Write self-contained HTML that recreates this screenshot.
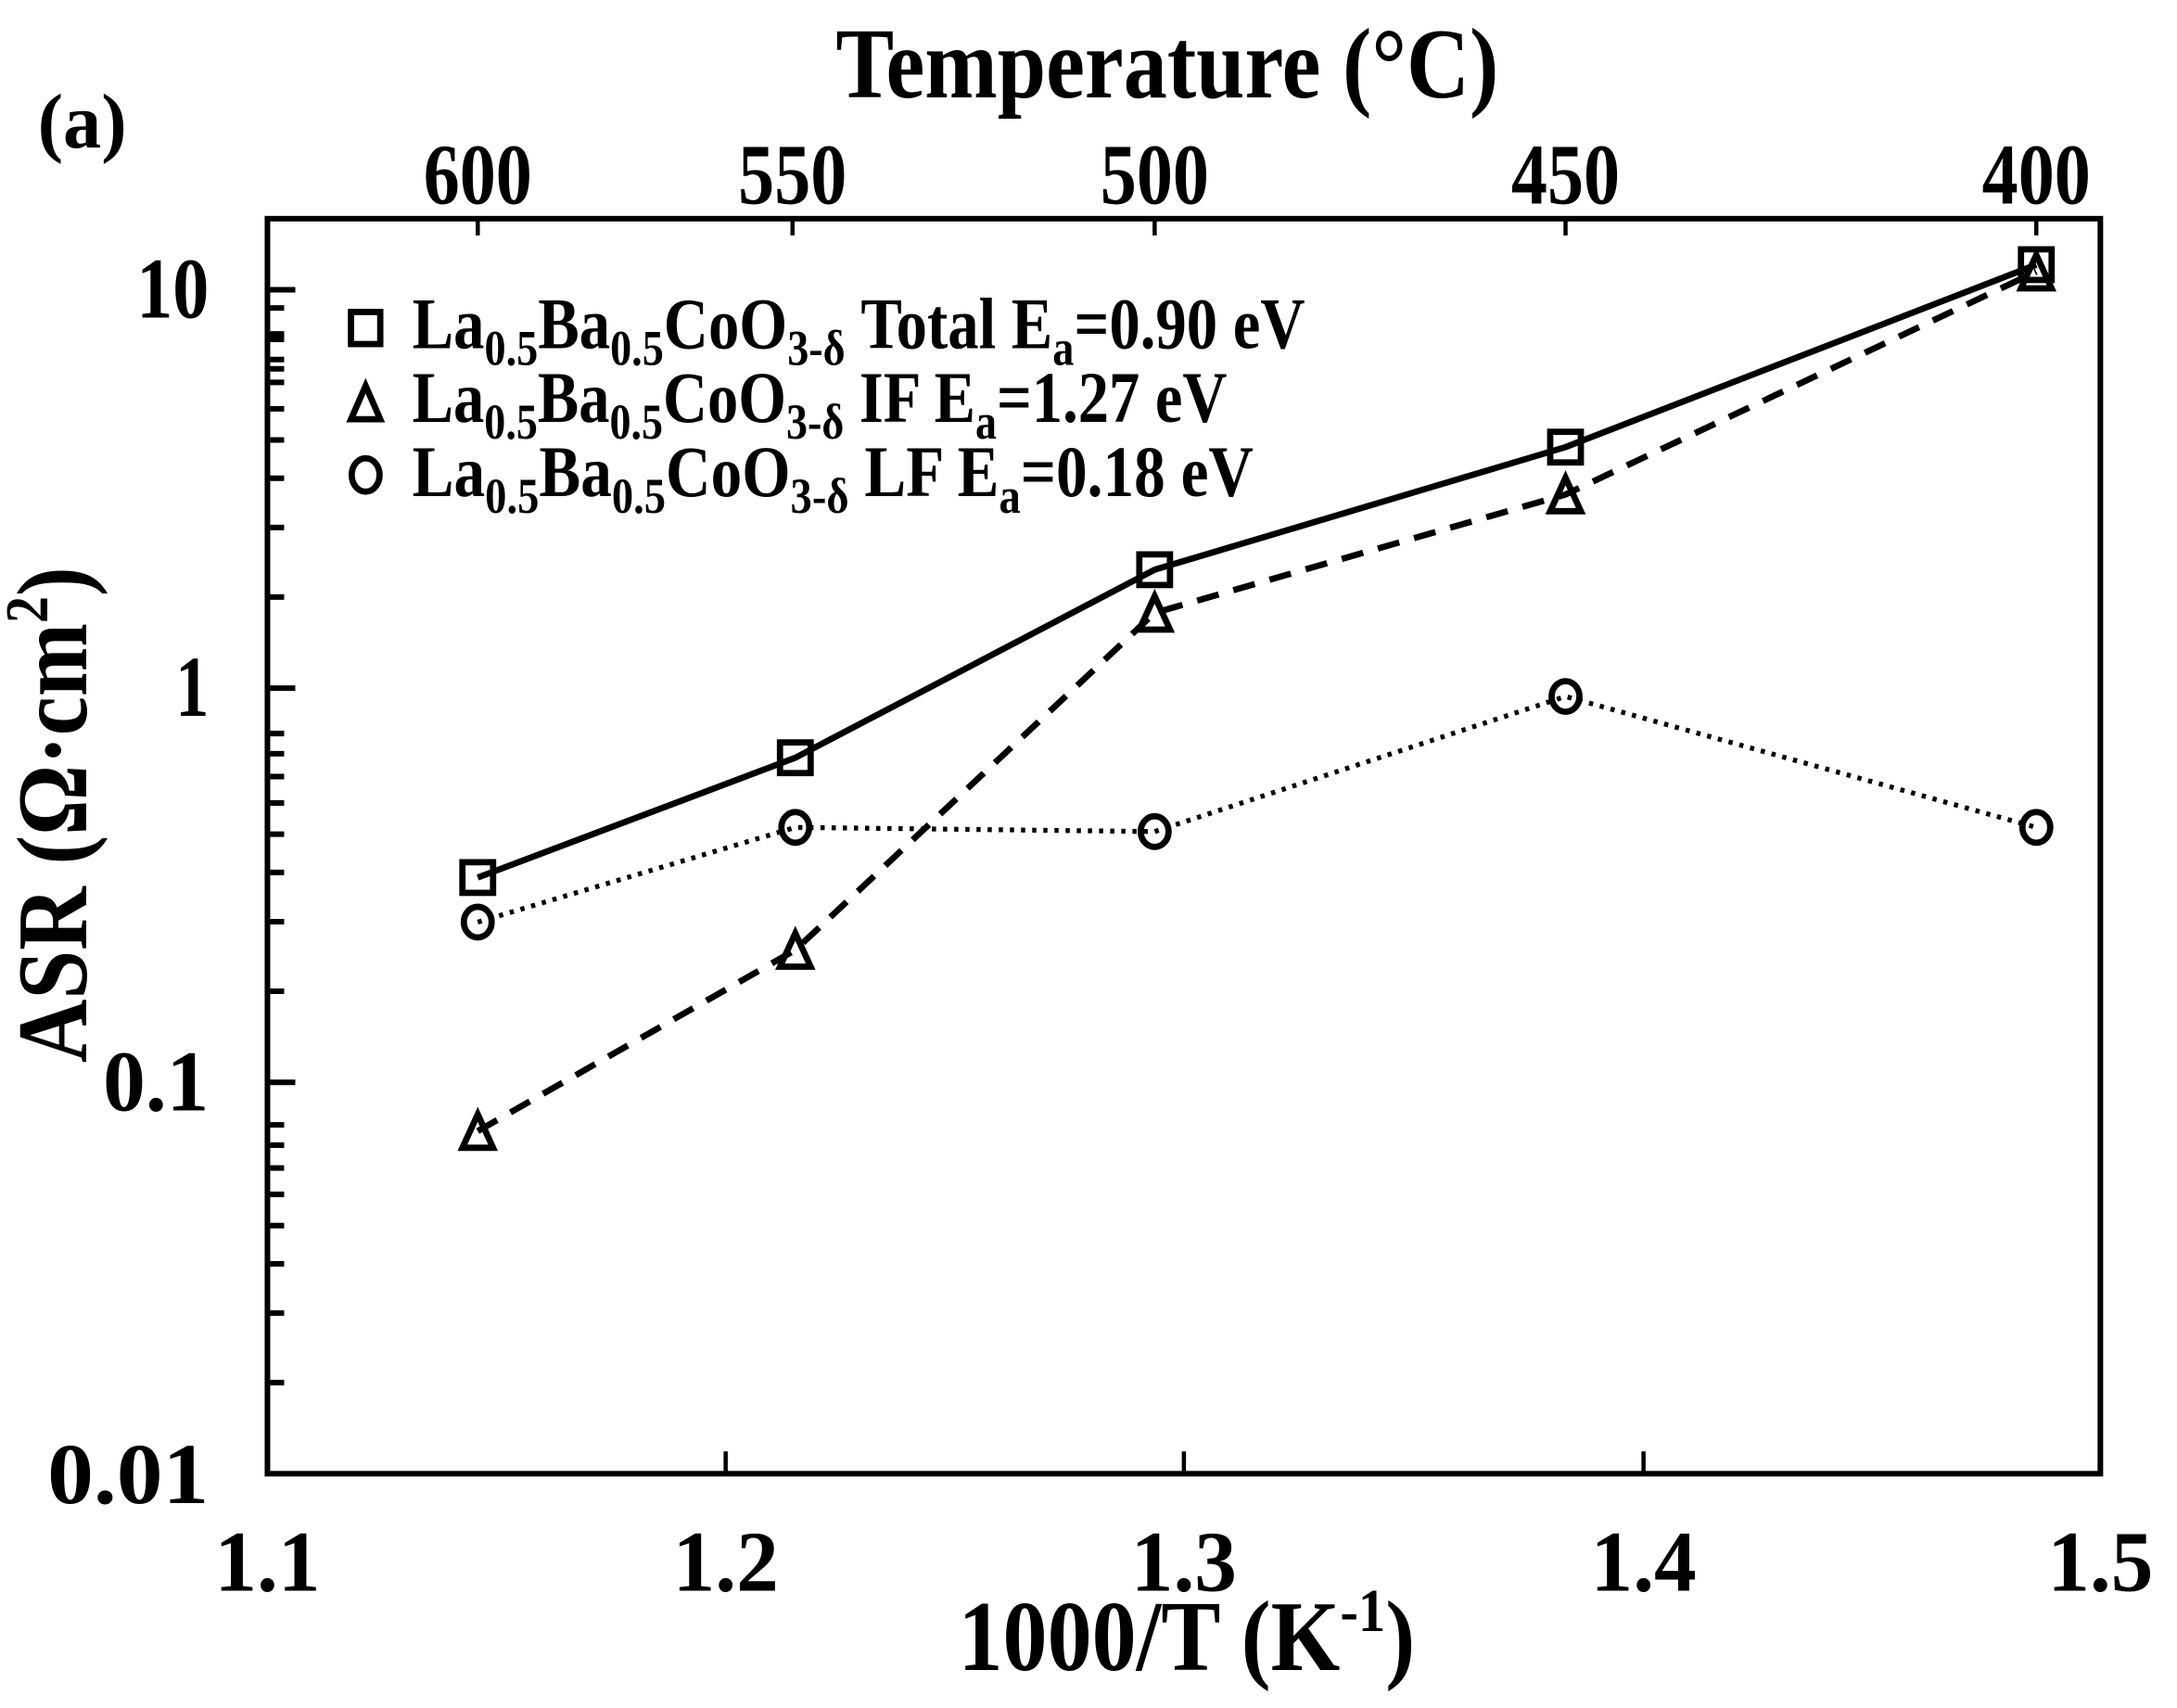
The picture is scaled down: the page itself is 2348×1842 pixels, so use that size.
<!DOCTYPE html>
<html><head><meta charset="utf-8"><style>html,body{margin:0;padding:0;background:#fff}svg{display:block}</style></head>
<body>
<svg width="2348" height="1842" viewBox="0 0 1563 1226.2" xmlns="http://www.w3.org/2000/svg" font-family="Liberation Serif, serif" font-weight="bold">
<rect width="1563" height="1226.2" fill="#fff"/>
<rect x="192" y="157" width="1316" height="901" fill="none" stroke="#000" stroke-width="4"/>
<g stroke="#000" stroke-width="4">
<path d="M192 208h20M192 494h20M192 777h20"/>
<path d="M192 264.8h12M192 239.7h12M192 221.1h12 M192 428.6h12M192 378.7h12M192 343.3h12M192 315.9h12M192 293.5h12M192 274.5h12M192 258.1h12M192 243.6h12 M192 711.6h12M192 661.7h12M192 626.3h12M192 598.9h12M192 576.5h12M192 557.5h12M192 541.1h12M192 526.6h12 M192 992.6h12M192 942.7h12M192 907.3h12M192 879.9h12M192 857.5h12M192 838.5h12M192 822.1h12M192 807.6h12"/>
</g>
<g stroke="#000" stroke-width="3"><path d="M521 1058v-16M850 1058v-16M1180 1058v-16"/>
<path d="M343 157v12M569 157v12M829 157v12M1124 157v12M1462 157v12"/></g>
<g font-size="62" text-anchor="end">
<text x="150" y="228" textLength="52" lengthAdjust="spacingAndGlyphs">10</text>
<text x="150" y="514" textLength="24" lengthAdjust="spacingAndGlyphs">1</text>
<text x="150" y="797" textLength="76" lengthAdjust="spacingAndGlyphs">0.1</text>
<text x="150" y="1079" textLength="116" lengthAdjust="spacingAndGlyphs">0.01</text>
</g>
<g font-size="62" text-anchor="middle">
<text x="192" y="1142" textLength="76" lengthAdjust="spacingAndGlyphs">1.1</text>
<text x="521" y="1142" textLength="76" lengthAdjust="spacingAndGlyphs">1.2</text>
<text x="850" y="1142" textLength="76" lengthAdjust="spacingAndGlyphs">1.3</text>
<text x="1180" y="1142" textLength="76" lengthAdjust="spacingAndGlyphs">1.4</text>
<text x="1508" y="1142" textLength="76" lengthAdjust="spacingAndGlyphs">1.5</text>
<text x="343" y="146" textLength="78" lengthAdjust="spacingAndGlyphs">600</text>
<text x="569" y="146" textLength="78" lengthAdjust="spacingAndGlyphs">550</text>
<text x="829" y="146" textLength="78" lengthAdjust="spacingAndGlyphs">500</text>
<text x="1124" y="146" textLength="78" lengthAdjust="spacingAndGlyphs">450</text>
<text x="1462" y="146" textLength="78" lengthAdjust="spacingAndGlyphs">400</text>
</g>
<text x="600" y="70" font-size="72" textLength="476" lengthAdjust="spacingAndGlyphs">Temperature (°C)</text>
<text x="27" y="106" font-size="56" textLength="64" lengthAdjust="spacingAndGlyphs">(a)</text>
<text x="688" y="1199" font-size="72" textLength="328" lengthAdjust="spacingAndGlyphs">1000/T (K<tspan font-size="44" dy="-28">-1</tspan><tspan dy="28">)</tspan></text>
<text transform="translate(62,585) rotate(-90)" text-anchor="middle" font-size="72" textLength="356" lengthAdjust="spacingAndGlyphs">ASR (Ω·cm<tspan font-size="44" dy="-28">2</tspan><tspan dy="28">)</tspan></text>
<g font-size="52">
<text x="296" y="250" textLength="641" lengthAdjust="spacingAndGlyphs">La<tspan font-size="36" dy="12">0.5</tspan><tspan dy="-12">Ba</tspan><tspan font-size="36" dy="12">0.5</tspan><tspan dy="-12">CoO</tspan><tspan font-size="36" dy="12">3-δ</tspan><tspan dy="-12"> Total E</tspan><tspan font-size="36" dy="12">a</tspan><tspan dy="-12">=0.90 eV</tspan></text>
<text x="296" y="303" textLength="585" lengthAdjust="spacingAndGlyphs">La<tspan font-size="36" dy="12">0.5</tspan><tspan dy="-12">Ba</tspan><tspan font-size="36" dy="12">0.5</tspan><tspan dy="-12">CoO</tspan><tspan font-size="36" dy="12">3-δ</tspan><tspan dy="-12"> IF E</tspan><tspan font-size="36" dy="12">a</tspan><tspan dy="-12">=1.27 eV</tspan></text>
<text x="296" y="356" textLength="604" lengthAdjust="spacingAndGlyphs">La<tspan font-size="36" dy="12">0.5</tspan><tspan dy="-12">Ba</tspan><tspan font-size="36" dy="12">0.5</tspan><tspan dy="-12">CoO</tspan><tspan font-size="36" dy="12">3-δ</tspan><tspan dy="-12"> LF E</tspan><tspan font-size="36" dy="12">a</tspan><tspan dy="-12">=0.18 eV</tspan></text>
</g>
<g fill="none" stroke="#000" stroke-width="4.5">
<rect x="252" y="224" width="21" height="23"/>
<path d="M252 301l10.5-24l10.5 24z"/>
<ellipse cx="262.5" cy="341" rx="10" ry="12"/>
</g>
<g fill="none" stroke="#000" stroke-width="4.5">
<polyline points="343,630 571,544 829,409 1124,321 1462,190"/>
<polyline points="343,812 571,682 829,440 1124,355 1462,195" stroke-dasharray="16,11"/>
<polyline points="343,662 571,594 829,597 1124,500 1462,594" stroke-width="3.5" stroke-dasharray="3,5"/>
<rect x="332" y="619" width="22" height="22"/><rect x="560" y="533" width="22" height="22"/><rect x="818" y="398" width="22" height="22"/><rect x="1113" y="310" width="22" height="22"/><rect x="1451" y="179" width="22" height="22"/>
<path d="M332 824l11-24l11 24z M560 694l11-24l11 24z M818 452l11-24l11 24z M1113 367l11-24l11 24z M1451 207l11-24l11 24z"/>
<ellipse cx="343" cy="662" rx="10" ry="11"/><ellipse cx="571" cy="594" rx="10" ry="11"/><ellipse cx="829" cy="597" rx="10" ry="11"/><ellipse cx="1124" cy="500" rx="10" ry="11"/><ellipse cx="1462" cy="594" rx="10" ry="11"/>
</g>
</svg>
</body></html>
